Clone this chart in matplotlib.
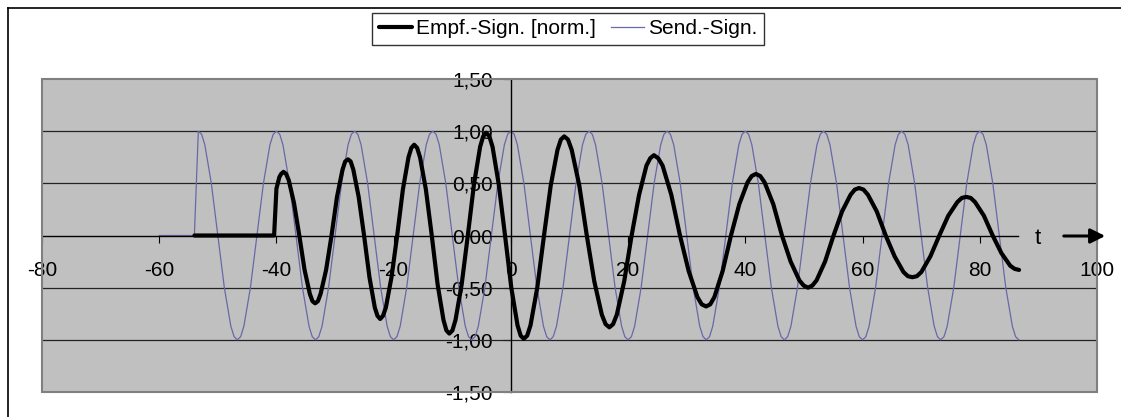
import numpy as np
import matplotlib
matplotlib.use('Agg')
import matplotlib.pyplot as plt
from matplotlib.lines import Line2D
from matplotlib.patches import Rectangle, FancyArrowPatch

''' values read off the chart '''
# received signal (normalised), black
recv_t = [-54.0, -40.4, -40.0, -39.5, -39.2, -38.8, -38.35,
          -37.9, -37.0, -36.1, -35.2, -34.3, -33.85, -33.4, -32.93,
          -32.47, -31.53, -30.6, -29.67, -28.73, -28.27, -27.8, -27.34,
          -26.88, -25.97, -25.05, -24.13, -23.22, -22.76, -22.3, -21.82,
          -21.33, -20.37, -19.4, -18.43, -17.47, -16.98, -16.5, -16.0,
          -15.5, -14.5, -13.5, -12.5, -11.5, -11.0, -10.5, -9.98,
          -9.45, -8.4, -7.35, -6.3, -5.25, -4.73, -4.2, -3.67,
          -3.13, -2.07, -1.0, 0.07, 1.13, 1.67, 2.2, 2.78,
          3.35, 4.5, 5.65, 6.8, 7.95, 8.53, 9.1, 9.74,
          10.38, 11.67, 12.95, 14.23, 15.52, 16.16, 16.8, 17.43,
          18.07, 19.33, 20.6, 21.87, 23.13, 23.77, 24.4, 25.14,
          25.88, 27.37, 28.85, 30.33, 31.82, 32.56, 33.3, 34.01,
          34.72, 36.13, 37.55, 38.97, 40.38, 41.09, 41.8, 42.54,
          43.28, 44.77, 46.25, 47.73, 49.22, 49.96, 50.7, 51.43,
          52.15, 53.6, 55.05, 56.5, 57.95, 58.68, 59.4, 60.16,
          60.92, 62.43, 63.95, 65.47, 66.98, 67.74, 68.5, 69.27,
          70.03, 71.57, 73.1, 74.63, 76.17, 76.93, 77.7, 78.45,
          79.2, 80.7, 82.2, 83.7, 85.2, 85.95, 86.7]
recv_v = [0.0, 0.0, 0.45, 0.56, 0.59, 0.61, 0.59,
          0.53, 0.31, 0.0, -0.33, -0.56, -0.63, -0.65, -0.63,
          -0.56, -0.33, 0.0, 0.37, 0.63, 0.71, 0.73, 0.71,
          0.63, 0.37, 0.0, -0.40, -0.69, -0.77, -0.80, -0.77,
          -0.69, -0.40, 0.0, 0.44, 0.75, 0.84, 0.87, 0.84,
          0.75, 0.44, 0.0, -0.47, -0.81, -0.91, -0.94, -0.91,
          -0.81, -0.47, 0.0, 0.49, 0.85, 0.95, 0.985, 0.95,
          0.85, 0.49, 0.0, -0.50, -0.86, -0.96, -0.99, -0.96,
          -0.86, -0.50, 0.0, 0.48, 0.82, 0.92, 0.95, 0.92,
          0.82, 0.48, 0.0, -0.44, -0.76, -0.85, -0.88, -0.85,
          -0.76, -0.44, 0.0, 0.39, 0.67, 0.74, 0.77, 0.74,
          0.67, 0.39, 0.0, -0.34, -0.59, -0.66, -0.68, -0.66,
          -0.59, -0.34, 0.0, 0.30, 0.51, 0.57, 0.59, 0.57,
          0.51, 0.30, 0.0, -0.25, -0.43, -0.48, -0.50, -0.48,
          -0.43, -0.25, 0.0, 0.23, 0.39, 0.44, 0.455, 0.44,
          0.39, 0.23, 0.0, -0.20, -0.35, -0.39, -0.40, -0.39,
          -0.35, -0.20, 0.0, 0.19, 0.32, 0.36, 0.37, 0.36,
          0.32, 0.19, 0.0, -0.17, -0.29, -0.32, -0.33]

# sent signal, blue
send_t = [-60.0, -54.0,
          -53.33, -52.77, -52.22, -51.11, -50.0, -48.89, -47.78, -47.22, -46.67, -46.11, -45.56, -44.44, -43.33, -42.22, -41.11, -40.55,
          -40.0, -39.44, -38.89, -37.78, -36.67, -35.56, -34.44, -33.89, -33.33, -32.78, -32.22, -31.11, -30.0, -28.89, -27.78, -27.22,
          -26.67, -26.11, -25.56, -24.44, -23.33, -22.22, -21.11, -20.56, -20.0, -19.44, -18.89, -17.78, -16.67, -15.56, -14.44, -13.89,
          -13.33, -12.77, -12.22, -11.11, -10.0, -8.89, -7.78, -7.22, -6.67, -6.11, -5.56, -4.44, -3.33, -2.22, -1.11, -0.55,
          0.0, 0.56, 1.11, 2.22, 3.33, 4.44, 5.56, 6.11, 6.67, 7.22, 7.78, 8.89, 10.0, 11.11, 12.22, 12.78,
          13.33, 13.89, 14.44, 15.56, 16.67, 17.78, 18.89, 19.44, 20.0, 20.56, 21.11, 22.22, 23.33, 24.44, 25.56, 26.11,
          26.67, 27.22, 27.78, 28.89, 30.0, 31.11, 32.22, 32.78, 33.33, 33.89, 34.44, 35.56, 36.67, 37.78, 38.89, 39.44,
          40.0, 40.56, 41.11, 42.22, 43.33, 44.44, 45.56, 46.11, 46.67, 47.22, 47.78, 48.89, 50.0, 51.11, 52.22, 52.78,
          53.33, 53.89, 54.44, 55.56, 56.67, 57.78, 58.89, 59.44, 60.0, 60.56, 61.11, 62.22, 63.33, 64.44, 65.56, 66.11,
          66.67, 67.22, 67.78, 68.89, 70.0, 71.11, 72.22, 72.78, 73.33, 73.89, 74.44, 75.56, 76.67, 77.78, 78.89, 79.44,
          80.0, 80.56, 81.11, 82.22, 83.33, 84.44, 85.56, 86.11, 86.67]
send_v = [0.0, 0.0,
          1.0, 0.97, 0.87, 0.5, 0.0, -0.5, -0.87, -0.97, -1.0, -0.97, -0.87, -0.5, 0.0, 0.5, 0.87, 0.97,
          1.0, 0.97, 0.87, 0.5, 0.0, -0.5, -0.87, -0.97, -1.0, -0.97, -0.87, -0.5, 0.0, 0.5, 0.87, 0.97,
          1.0, 0.97, 0.87, 0.5, 0.0, -0.5, -0.87, -0.97, -1.0, -0.97, -0.87, -0.5, 0.0, 0.5, 0.87, 0.97,
          1.0, 0.97, 0.87, 0.5, 0.0, -0.5, -0.87, -0.97, -1.0, -0.97, -0.87, -0.5, 0.0, 0.5, 0.87, 0.97,
          1.0, 0.97, 0.87, 0.5, 0.0, -0.5, -0.87, -0.97, -1.0, -0.97, -0.87, -0.5, 0.0, 0.5, 0.87, 0.97,
          1.0, 0.97, 0.87, 0.5, 0.0, -0.5, -0.87, -0.97, -1.0, -0.97, -0.87, -0.5, 0.0, 0.5, 0.87, 0.97,
          1.0, 0.97, 0.87, 0.5, 0.0, -0.5, -0.87, -0.97, -1.0, -0.97, -0.87, -0.5, 0.0, 0.5, 0.87, 0.97,
          1.0, 0.97, 0.87, 0.5, 0.0, -0.5, -0.87, -0.97, -1.0, -0.97, -0.87, -0.5, 0.0, 0.5, 0.87, 0.97,
          1.0, 0.97, 0.87, 0.5, 0.0, -0.5, -0.87, -0.97, -1.0, -0.97, -0.87, -0.5, 0.0, 0.5, 0.87, 0.97,
          1.0, 0.97, 0.87, 0.5, 0.0, -0.5, -0.87, -0.97, -1.0, -0.97, -0.87, -0.5, 0.0, 0.5, 0.87, 0.97,
          1.0, 0.97, 0.87, 0.5, 0.0, -0.5, -0.87, -0.97, -1.0]

xticks = [-80, -60, -40, -20, 0, 20, 40, 60, 80, 100]
yticks = [-1.5, -1.0, -0.5, 0.0, 0.5, 1.0, 1.5]
ylabels = ['-1,50', '-1,00', '-0,50', '0,00', '0,50', '1,00', '1,50']
grid_y = [-1.0, -0.5, 0.5, 1.0]

plt.rcParams['font.family'] = ['Liberation Sans', 'DejaVu Sans']

W, H = 1121, 417
fig = plt.figure(figsize=(W/100., H/100.), dpi=100)
fig.patch.set_facecolor('white')

# outer frame (only top and left edge are inside the crop)
fig.add_artist(Line2D([8./W, 8./W], [0, 1-8./H], color='k', lw=1.2))
fig.add_artist(Line2D([8./W, 1], [1-8./H, 1-8./H], color='k', lw=1.2))

ax = fig.add_axes([42./W, 1-392./H, (1097-42.)/W, (392-79.)/H])
ax.set_facecolor('#C0C0C0')
ax.set_xlim(-80, 100)
ax.set_ylim(-1.5, 1.5)
ax.set_axisbelow(True)

for yy in grid_y:
    ax.axhline(yy, color='#222222', lw=0.9, zorder=1)

ax.spines['top'].set_visible(False)
ax.spines['right'].set_visible(False)
ax.spines['left'].set_position(('data', 0))
ax.spines['bottom'].set_position(('data', 0))
ax.spines['bottom'].set_bounds(-80, 86.5)
ax.spines['left'].set_linewidth(1.0)
ax.spines['bottom'].set_linewidth(1.0)
ax.add_patch(Rectangle((0, 0), 1, 1, transform=ax.transAxes, fill=False,
                       edgecolor='#808080', lw=1.5, clip_on=False, zorder=3))

ax.set_xticks(xticks)
ax.set_xticklabels([str(v) for v in xticks])
ax.set_yticks(yticks)
ax.set_yticklabels(ylabels)
ax.tick_params(axis='x', direction='out', length=5, width=0.8, pad=13, labelsize=15)
ax.tick_params(axis='y', direction='out', length=6, width=0.8, pad=7, labelsize=15)

ax.plot(send_t, send_v, color='#6868A8', lw=0.9, zorder=2, label='Send.-Sign.')
ax.plot(recv_t, recv_v, color='k', lw=3.0, zorder=2.1, label='Empf.-Sign. [norm.]',
        solid_joinstyle='round', solid_capstyle='round')

# t and arrow at the end of the x axis
fig.text(1038./W, 1-238./H, 't', fontsize=16, ha='center', va='center')
fig.add_artist(FancyArrowPatch((1061./W, 1-236./H), (1108./W, 1-236./H),
               transform=fig.transFigure, arrowstyle='-|>', mutation_scale=22,
               color='k', lw=2.2))

hands, labs = ax.get_legend_handles_labels()
leg = fig.legend(hands[::-1], labs[::-1], loc='center', ncol=2,
                 bbox_to_anchor=(568./W, 1-29./H), fontsize=15, frameon=True,
                 fancybox=False, edgecolor='k', borderpad=0.3, handlelength=1.6,
                 handletextpad=0.2, columnspacing=0.7, borderaxespad=0)
leg.get_frame().set_linewidth(1.0)

plt.savefig('out.png', dpi=100)
